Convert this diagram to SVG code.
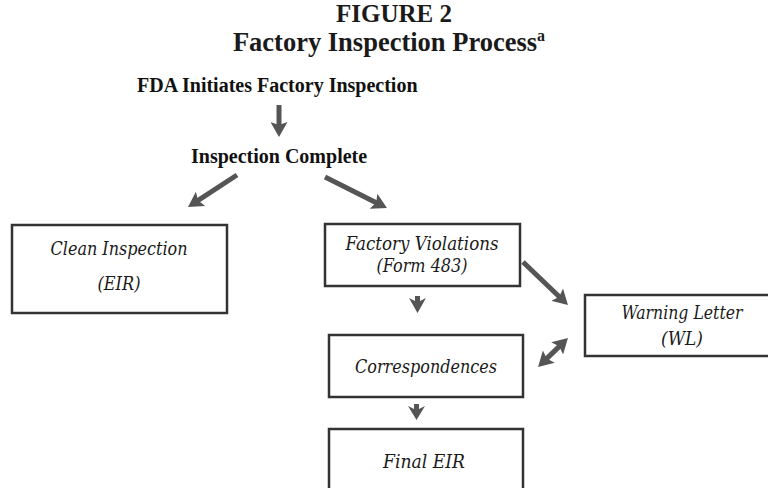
<svg xmlns="http://www.w3.org/2000/svg" width="768" height="488" viewBox="0 0 768 488">
<style>
.title{font-family:"Liberation Serif","Times New Roman",serif;font-weight:bold;font-size:25px;fill:#1a1a1a;text-anchor:middle}
.head{font-family:"Liberation Serif","Times New Roman",serif;font-weight:bold;font-size:20px;fill:#111}
.lbl{font-family:"DejaVu Serif","Liberation Serif",serif;font-style:italic;font-size:18px;fill:#1a1a1a;text-anchor:middle}
.box{fill:#fff;stroke:#333;stroke-width:2.5}
.arr{stroke:#555;stroke-width:5;fill:none}
.chev{fill:#555}
</style>
<defs>
<marker id="ah" markerUnits="userSpaceOnUse" markerWidth="16" markerHeight="17" refX="7" refY="8.5" orient="auto-start-reverse" viewBox="0 0 16 17">
<path d="M0,0 L15,8.5 L0,17 L3,8.5 z" fill="#555"/>
</marker>
</defs>
<rect width="768" height="488" fill="#fff"/>
<g id="title">
<text class="title" x="394" y="21.5">FIGURE 2</text>
<text class="title" x="389" y="50.5" style="font-size:26.5px">Factory Inspection Process<tspan font-size="16" dy="-10">a</tspan></text>
</g>
<g id="start"><text class="head" x="137" y="92">FDA Initiates Factory Inspection</text></g>
<g id="complete"><text class="head" x="191" y="163">Inspection Complete</text></g>
<g id="clean">
<rect class="box" x="12" y="225" width="215" height="88"/>
<text class="lbl" x="119" y="255" textLength="137" lengthAdjust="spacingAndGlyphs">Clean Inspection</text>
<text class="lbl" x="119" y="290" textLength="43" lengthAdjust="spacingAndGlyphs">(EIR)</text>
</g>
<g id="violations">
<rect class="box" x="325" y="224" width="195" height="62"/>
<text class="lbl" x="422" y="250" textLength="153" lengthAdjust="spacingAndGlyphs">Factory Violations</text>
<text class="lbl" x="422" y="272" textLength="91" lengthAdjust="spacingAndGlyphs">(Form 483)</text>
</g>
<g id="warning">
<rect class="box" x="585" y="295" width="190" height="61"/>
<text class="lbl" x="682" y="319" textLength="121" lengthAdjust="spacingAndGlyphs">Warning Letter</text>
<text class="lbl" x="682" y="345" textLength="42" lengthAdjust="spacingAndGlyphs">(WL)</text>
</g>
<g id="corr">
<rect class="box" x="329" y="335" width="194" height="62"/>
<text class="lbl" x="426" y="373" textLength="142" lengthAdjust="spacingAndGlyphs">Correspondences</text>
</g>
<g id="final">
<rect class="box" x="329" y="429" width="194" height="70"/>
<text class="lbl" x="424" y="468" textLength="82" lengthAdjust="spacingAndGlyphs">Final EIR</text>
</g>
<g id="connectors">
<line class="arr" x1="279" y1="105" x2="279" y2="129" marker-end="url(#ah)"/>
<line class="arr" x1="237" y1="175" x2="194.7" y2="202.6" marker-end="url(#ah)"/>
<line class="arr" x1="325" y1="177" x2="379.8" y2="204.4" marker-end="url(#ah)"/>
<line class="arr" x1="523" y1="262" x2="562.2" y2="299.5" marker-end="url(#ah)"/>
<line class="arr" x1="543.8" y1="361.4" x2="562.2" y2="343.6" marker-start="url(#ah)" marker-end="url(#ah)"/>
<path class="chev" d="M415,296 L420,296 L420,301 L426,298 L417.5,313 L409,298 L415,301 z"/>
<path class="chev" d="M414,404 L419,404 L419,409 L425,406 L416.5,420 L408,406 L414,409 z"/>
</g>
</svg>
